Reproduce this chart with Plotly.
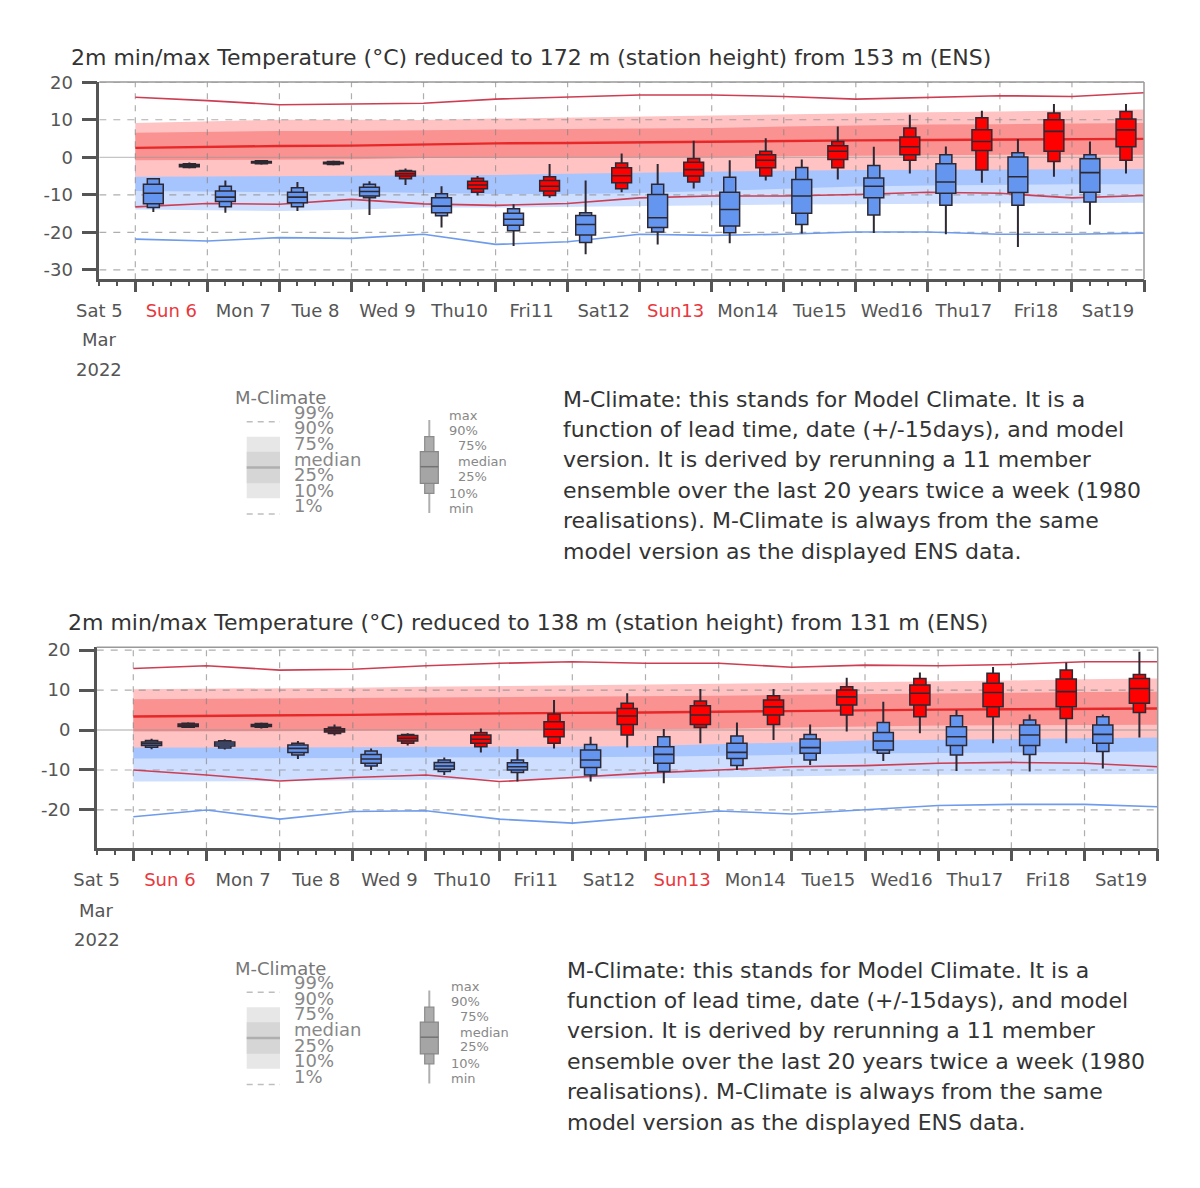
import pandas as pd
import plotly.graph_objects as go

W, H = 1200, 1188
FONT = "DejaVu Sans"

# ---------------- data ----------------
clim_dates = pd.date_range("2022-03-06", "2022-03-20", freq="D")
box_days = pd.date_range("2022-03-06", "2022-03-19", freq="D")
tmin_times = box_days + pd.Timedelta(hours=6)
tmax_times = box_days + pd.Timedelta(hours=18)
label_dates = pd.date_range("2022-03-05 12:00", periods=15, freq="D")
day_labels = ["Sat 5", "Sun 6", "Mon 7", "Tue 8", "Wed 9", "Thu10", "Fri11", "Sat12",
              "Sun13", "Mon14", "Tue15", "Wed16", "Thu17", "Fri18", "Sat19"]
sunday_labels = ["Sun 6", "Sun13"]
month_label = "Mar"
year_label = "2022"
x_start = "2022-03-05 12:00"
x_end = "2022-03-20 00:00"

titles = [
    "2m min/max Temperature (°C) reduced to 172 m (station height) from 153 m (ENS)",
    "2m min/max Temperature (°C) reduced to 138 m (station height) from 131 m (ENS)",
]
yticks_top = [20, 10, 0, -10, -20, -30]
yticks_bot = [20, 10, 0, -10, -20]
yrange_top = [-32.5, 20.05]
yrange_bot = [-29.6, 20.7]

# ---- top chart: M-Climate of max temperature (red) ----
t_cmax_p99 = [16.0, 15.1, 14.0, 14.2, 14.4, 15.5, 16.0, 16.6, 16.6, 16.2, 15.5, 15.9, 16.4, 16.2, 17.2]
t_cmax_p90 = [9.1, 9.6, 10.0, 10.0, 9.9, 10.3, 10.6, 10.9, 11.2, 11.5, 11.8, 12.0, 12.2, 12.4, 12.7]
t_cmax_p75 = [6.5, 6.8, 7.0, 7.0, 7.3, 7.4, 7.5, 7.6, 7.8, 8.2, 8.5, 8.7, 8.8, 9.0, 9.1]
t_cmax_p50 = [2.5, 2.8, 3.0, 3.1, 3.4, 3.7, 3.8, 4.0, 4.2, 4.5, 4.5, 4.6, 4.7, 4.8, 4.9]
t_cmax_p25 = [-0.8, -0.7, -0.6, -0.5, -0.2, -0.2, -0.2, -0.2, 0.0, 0.3, 0.5, 0.6, 0.7, 0.7, 0.7]
t_cmax_p10 = [-5.2, -5.1, -5.0, -5.0, -4.9, -4.7, -4.4, -4.1, -3.9, -3.6, -3.4, -3.3, -3.2, -3.1, -3.1]
t_cmax_p1 = [-13.2, -12.3, -12.5, -11.2, -12.4, -12.8, -12.3, -10.8, -10.3, -10.3, -9.9, -9.3, -9.6, -10.8, -10.2]
# ---- top chart: M-Climate of min temperature (blue); upper part hidden under the red climate ----
t_cmin_p99 = [5.5, 5.5, 5.6, 5.6, 5.7, 5.8, 5.9, 6.0, 6.2, 6.4, 6.6, 6.7, 6.8, 6.9, 7.0]
t_cmin_p90 = [1.5, 1.5, 1.6, 1.6, 1.7, 1.8, 1.9, 2.0, 2.2, 2.4, 2.6, 2.7, 2.8, 2.9, 3.0]
t_cmin_p75 = [-1.5, -1.5, -1.4, -1.4, -1.3, -1.2, -1.1, -1.0, -0.8, -0.6, -0.4, -0.3, -0.2, -0.1, 0.0]
t_cmin_p50 = [-4.0, -4.0, -3.9, -3.9, -3.8, -3.6, -3.3, -3.0, -2.8, -2.5, -2.3, -2.2, -2.1, -2.0, -2.0]
t_cmin_p25 = [-9.0, -9.2, -9.3, -9.2, -9.5, -9.8, -9.8, -9.5, -9.0, -8.3, -7.8, -7.5, -7.3, -7.2, -7.2]
t_cmin_p10 = [-13.9, -14.1, -14.3, -14.0, -13.4, -13.4, -13.2, -12.9, -12.8, -12.6, -12.5, -12.4, -12.3, -12.2, -12.1]
t_cmin_p1 = [-21.8, -22.3, -21.4, -21.6, -20.5, -23.2, -22.5, -20.5, -20.8, -20.5, -19.9, -19.9, -20.5, -20.5, -20.2]

# ---- top chart: ENS min temperature boxes (06 UTC) ----
t_min_min = [-14.6, -14.8, -14.3, -15.4, -18.7, -23.6, -25.8, -23.2, -22.9, -20.3, -20.2, -20.5, -23.9, -18.0]
t_min_p10 = [-13.4, -13.2, -13.2, -10.8, -15.6, -19.6, -22.7, -19.9, -20.1, -17.9, -15.4, -12.8, -12.8, -11.9]
t_min_p25 = [-12.4, -11.8, -12.1, -10.3, -14.8, -18.1, -20.7, -18.7, -18.3, -14.9, -10.8, -9.6, -9.4, -9.3]
t_min_med = [-9.6, -10.6, -10.6, -9.1, -13.0, -16.5, -17.9, -16.1, -13.9, -10.3, -7.7, -6.6, -5.2, -4.1]
t_min_p75 = [-7.2, -9.0, -9.3, -8.0, -10.8, -14.9, -15.5, -9.9, -9.3, -5.9, -5.5, -1.7, 0.1, -0.4]
t_min_p90 = [-5.7, -7.7, -8.1, -7.2, -9.7, -13.7, -14.8, -7.2, -5.3, -2.7, -2.2, 0.7, 1.2, 0.7]
t_min_max = [-5.5, -6.2, -6.6, -6.4, -7.7, -12.5, -6.2, -1.8, -0.8, -0.6, 2.8, 2.9, 4.9, 4.2]
# ---- top chart: ENS max temperature boxes (18 UTC) ----
t_max_min = [-2.9, -1.9, -2.1, -7.4, -10.2, -10.8, -9.3, -8.3, -6.2, -5.9, -4.3, -6.8, -5.2, -4.3]
t_max_p10 = [-2.7, -1.7, -1.9, -5.7, -9.3, -10.2, -8.4, -6.6, -5.0, -2.8, -0.8, -3.4, -1.1, -0.8]
t_max_p25 = [-2.5, -1.5, -1.7, -5.0, -8.4, -9.0, -6.8, -5.0, -2.8, -0.6, 0.7, 1.8, 1.6, 2.8]
t_max_med = [-2.2, -1.3, -1.5, -4.4, -7.4, -7.7, -4.9, -3.3, -0.8, 1.6, 2.8, 4.2, 6.9, 7.3]
t_max_p75 = [-1.9, -1.1, -1.3, -3.7, -6.4, -6.2, -2.8, -1.3, 0.7, 3.1, 5.4, 7.3, 10.0, 10.2]
t_max_p90 = [-1.7, -0.9, -1.1, -3.5, -5.6, -5.2, -1.5, -0.3, 1.6, 4.2, 7.8, 10.5, 11.8, 12.2]
t_max_max = [-1.4, -0.7, -0.9, -3.0, -5.0, -1.8, 1.0, 4.4, 5.1, 8.2, 11.3, 12.4, 14.2, 14.2]

# ---- bottom chart: M-Climate of max temperature (red) ----
b_cmax_p99 = [15.4, 16.1, 15.0, 15.2, 16.1, 16.7, 17.1, 16.7, 16.7, 15.7, 16.25, 16.1, 16.4, 17.1, 17.1]
b_cmax_p90 = [10.2, 10.3, 10.4, 10.6, 10.8, 11.0, 11.2, 11.3, 11.5, 11.7, 12.0, 12.2, 12.4, 12.7, 12.9]
b_cmax_p75 = [7.7, 7.8, 7.9, 8.0, 8.1, 8.2, 8.3, 8.4, 8.6, 8.8, 9.0, 9.2, 9.3, 9.5, 9.6]
b_cmax_p50 = [3.4, 3.5, 3.6, 3.8, 4.0, 4.2, 4.3, 4.4, 4.6, 4.8, 5.0, 5.1, 5.2, 5.3, 5.4]
b_cmax_p25 = [-0.4, -0.4, -0.3, -0.2, -0.1, 0.0, 0.0, 0.1, 0.3, 0.6, 0.9, 1.1, 1.2, 1.3, 1.3]
b_cmax_p10 = [-4.4, -4.4, -4.3, -4.3, -4.2, -4.2, -4.2, -4.0, -3.6, -3.1, -2.6, -2.4, -2.2, -2.0, -1.9]
b_cmax_p1 = [-10.0, -11.25, -12.75, -11.9, -11.25, -12.9, -11.9, -10.8, -10.0, -9.2, -8.9, -8.3, -8.1, -8.3, -9.2]
# ---- bottom chart: M-Climate of min temperature (blue); upper part hidden ----
b_cmin_p99 = [6.5, 6.5, 6.6, 6.7, 6.8, 6.9, 7.0, 7.1, 7.2, 7.4, 7.6, 7.7, 7.8, 7.9, 8.0]
b_cmin_p90 = [2.6, 2.6, 2.7, 2.8, 2.9, 3.0, 3.1, 3.2, 3.3, 3.5, 3.7, 3.8, 3.9, 4.0, 4.1]
b_cmin_p75 = [-0.5, -0.5, -0.4, -0.3, -0.2, -0.1, 0.0, 0.1, 0.3, 0.6, 0.9, 1.0, 1.1, 1.2, 1.3]
b_cmin_p50 = [-3.3, -3.3, -3.2, -3.2, -3.1, -3.1, -3.0, -2.8, -2.5, -2.0, -1.5, -1.3, -1.1, -0.9, -0.8]
b_cmin_p25 = [-7.1, -7.1, -7.0, -7.0, -6.9, -6.9, -6.8, -6.7, -6.5, -6.2, -5.9, -5.8, -5.6, -5.5, -5.4]
b_cmin_p10 = [-12.9, -12.9, -12.8, -12.6, -12.5, -12.4, -12.3, -12.1, -11.9, -11.6, -11.3, -11.2, -11.1, -11.0, -11.0]
b_cmin_p1 = [-21.7, -20.0, -22.3, -20.4, -20.2, -22.3, -23.3, -21.7, -20.25, -21.0, -20.0, -18.9, -18.6, -18.6, -19.2]

# ---- bottom chart: ENS min temperature boxes (06 UTC) ----
b_min_min = [-4.8, -4.9, -7.25, -10.0, -11.25, -12.9, -12.9, -13.3, -10.0, -8.75, -7.75, -10.25, -10.4, -9.6]
b_min_p10 = [-4.3, -4.5, -6.25, -9.0, -10.4, -10.6, -11.25, -10.4, -8.9, -7.5, -5.8, -6.25, -6.1, -5.4]
b_min_p25 = [-3.9, -4.0, -5.6, -8.3, -9.8, -10.0, -9.4, -8.3, -7.1, -5.8, -5.0, -3.9, -3.9, -3.3]
b_min_med = [-3.4, -3.5, -4.6, -7.25, -9.0, -9.2, -7.5, -6.1, -5.6, -4.4, -2.75, -1.7, -1.25, -1.1]
b_min_p75 = [-3.0, -3.0, -3.75, -6.1, -8.1, -8.2, -5.0, -4.2, -3.3, -2.25, -0.6, 0.8, 1.25, 1.25]
b_min_p90 = [-2.6, -2.7, -3.3, -5.25, -7.5, -7.5, -3.6, -1.7, -1.5, -1.1, 1.9, 3.6, 2.5, 3.3]
b_min_max = [-2.2, -2.3, -2.75, -4.6, -6.9, -4.75, -1.7, 0.25, 1.9, 1.4, 7.1, 5.0, 3.9, 3.9]
# ---- bottom chart: ENS max temperature boxes (18 UTC) ----
b_max_min = [0.5, 0.4, -1.4, -3.9, -5.6, -4.6, -4.4, -3.3, -2.5, -0.4, -0.8, -3.3, -3.3, -1.9]
b_max_p10 = [0.7, 0.7, -0.9, -3.3, -4.2, -3.3, -1.25, 0.6, 1.4, 3.75, 3.3, 3.3, 2.9, 4.4]
b_max_p25 = [0.9, 0.9, -0.5, -2.75, -3.3, -1.7, 1.4, 1.4, 3.75, 6.25, 6.25, 5.8, 5.8, 6.7]
b_max_med = [1.2, 1.1, -0.1, -2.1, -2.3, 0.2, 3.5, 3.75, 5.8, 8.3, 9.2, 9.4, 9.6, 10.4]
b_max_p75 = [1.5, 1.4, 0.3, -1.4, -1.25, 2.1, 5.4, 6.1, 7.5, 10.0, 11.25, 11.7, 12.75, 12.9]
b_max_p90 = [1.7, 1.6, 0.7, -1.1, -0.6, 4.0, 6.7, 7.25, 8.6, 10.8, 12.9, 14.2, 15.0, 13.9]
b_max_max = [1.9, 1.8, 1.4, -0.8, 0.4, 7.5, 9.2, 10.25, 10.25, 13.1, 14.4, 15.8, 16.9, 19.6]

legend_clim_labels = ["99%", "90%", "75%", "median", "25%", "10%", "1%"]
legend_box_labels = ["max", "90%", "75%", "median", "25%", "10%", "min"]
info_lines = [
    "M-Climate: this stands for Model Climate. It is a",
    "function of lead time, date (+/-15days), and model",
    "version. It is derived by rerunning a 11 member",
    "ensemble over the last 20 years twice a week (1980",
    "realisations). M-Climate is always from the same",
    "model version as the displayed ENS data.",
]

# ---------------- styles ----------------
RED_LIGHT = "rgb(255,195,195)"
RED_DARK = "rgb(250,146,146)"
RED_MED = "rgb(232,40,40)"
RED_EXT = "rgb(205,62,82)"
BLUE_LIGHT = "rgb(206,222,255)"
BLUE_DARK = "rgb(166,197,255)"
BLUE_EXT = "rgb(110,155,235)"
BOX_RED = "rgb(255,0,0)"
BOX_BLUE = "rgb(100,150,240)"
BOX_EDGE = "rgb(45,40,50)"
AXIS_COL = "#555555"
TEXT_COL = "#333333"
WIDE_MS = 6.6 * 3600 * 1000
NARROW_MS = 4.0 * 3600 * 1000
TITLE_SIZE = 22
INFO_SIZE = 22
TICK_SIZE = 18
LEG_SIZE = 18
BOXLEG_SIZE = 13


def px(x):
    return x / W


def py(y):
    return 1 - y / H


fig = go.Figure()


def add_line(x, y, xa, ya, color, width, dash=None, fill=None, fillcolor=None):
    fig.add_trace(go.Scatter(
        x=x, y=y, mode="lines", xaxis=xa, yaxis=ya, showlegend=False, hoverinfo="skip",
        line=dict(color=color, width=width, dash=dash), fill=fill, fillcolor=fillcolor))


def add_band(x, lo, hi, color, xa, ya):
    add_line(x, lo, xa, ya, "rgba(0,0,0,0)", 0)
    add_line(x, hi, xa, ya, "rgba(0,0,0,0)", 0, fill="tonexty", fillcolor=color)


def add_boxes(times, mn, p10, p25, med, p75, p90, mx, fill, xa, ya):
    fig.add_trace(go.Bar(
        x=times, base=p10, y=[b - a for a, b in zip(p10, p90)], width=NARROW_MS,
        marker=dict(color=fill, line=dict(color=BOX_EDGE, width=1.5)),
        xaxis=xa, yaxis=ya, showlegend=False, hoverinfo="skip"))
    fig.add_trace(go.Bar(
        x=times, base=p25, y=[b - a for a, b in zip(p25, p75)], width=WIDE_MS,
        marker=dict(color=fill, line=dict(color=BOX_EDGE, width=1.5)),
        xaxis=xa, yaxis=ya, showlegend=False, hoverinfo="skip"))
    wx, wy, mxs, mys = [], [], [], []
    half = pd.Timedelta(milliseconds=WIDE_MS / 2)
    for t, a, b, c, d, m in zip(times, mn, p10, p90, mx, med):
        wx += [t, t, None, t, t, None]
        wy += [a, b, None, c, d, None]
        mxs += [t - half, t + half, None]
        mys += [m, m, None]
    add_line(wx, wy, xa, ya, BOX_EDGE, 2)
    add_line(mxs, mys, xa, ya, BOX_EDGE, 1.6)


def draw_chart(k, cmax, cmin, bmin, bmax, yrange, yticks):
    xb, yb = ("x", "y") if k == 0 else ("x3", "y3")
    xo, yo = ("x2", "y2") if k == 0 else ("x4", "y4")
    # min-temperature climate (blue), partly covered by the max climate
    add_band(clim_dates, cmin[5], cmin[1], BLUE_LIGHT, xb, yb)
    add_band(clim_dates, cmin[4], cmin[2], BLUE_DARK, xb, yb)
    add_line(clim_dates, cmin[3], xb, yb, "rgb(90,130,220)", 2)
    add_line(clim_dates, cmin[0], xb, yb, BLUE_EXT, 1.6)
    # max-temperature climate (red)
    add_band(clim_dates, cmax[5], cmax[1], RED_LIGHT, xb, yb)
    add_band(clim_dates, cmax[4], cmax[2], RED_DARK, xb, yb)
    # grid lines above the climate bands
    vx, vy = [], []
    for d in box_days:
        vx += [d, d, None]
        vy += [yrange[0], yrange[1], None]
    add_line(vx, vy, xb, yb, "rgba(130,130,130,0.65)", 1.2, dash="6px,6px")
    hx, hy = [], []
    for v in yticks:
        if v != 0:
            hx += [x_start, x_end, None]
            hy += [v, v, None]
    add_line(hx, hy, xb, yb, "rgba(130,130,130,0.65)", 1.2, dash="7px,7px")
    add_line([x_start, x_end], [0, 0], xb, yb, "rgba(150,150,150,0.55)", 1.3)
    add_line(clim_dates, cmax[3], xb, yb, RED_MED, 2.4)
    add_line(clim_dates, cmax[0], xb, yb, RED_EXT, 1.6)
    add_line(clim_dates, cmax[6], xb, yb, RED_EXT, 1.6)
    add_line(clim_dates, cmin[6], xb, yb, BLUE_EXT, 1.6)
    # ENS boxes on the overlay axes
    add_boxes(tmin_times, *bmin, BOX_BLUE, xo, yo)
    add_boxes(tmax_times, *bmax, BOX_RED, xo, yo)


draw_chart(0,
           [t_cmax_p99, t_cmax_p90, t_cmax_p75, t_cmax_p50, t_cmax_p25, t_cmax_p10, t_cmax_p1],
           [t_cmin_p99, t_cmin_p90, t_cmin_p75, t_cmin_p50, t_cmin_p25, t_cmin_p10, t_cmin_p1],
           [t_min_min, t_min_p10, t_min_p25, t_min_med, t_min_p75, t_min_p90, t_min_max],
           [t_max_min, t_max_p10, t_max_p25, t_max_med, t_max_p75, t_max_p90, t_max_max],
           yrange_top, yticks_top)
draw_chart(1,
           [b_cmax_p99, b_cmax_p90, b_cmax_p75, b_cmax_p50, b_cmax_p25, b_cmax_p10, b_cmax_p1],
           [b_cmin_p99, b_cmin_p90, b_cmin_p75, b_cmin_p50, b_cmin_p25, b_cmin_p10, b_cmin_p1],
           [b_min_min, b_min_p10, b_min_p25, b_min_med, b_min_p75, b_min_p90, b_min_max],
           [b_max_min, b_max_p10, b_max_p25, b_max_med, b_max_p75, b_max_p90, b_max_max],
           yrange_bot, yticks_bot)

ticktext = [("<span style='color:#e8383d'>%s</span>" % s) if s in sunday_labels else s
            for s in day_labels]

# chart geometry (pixels)
charts = [
    dict(l=99.3, r=1144, t=82, b=279.3, yrange=yrange_top, yticks=yticks_top,
         title_x=69, title_y=57, label_y=310, legend_dy=0, info_x=561, info_y=399, standoff=13),
    dict(l=96.7, r=1157.7, t=647.3, b=848.3, yrange=yrange_bot, yticks=yticks_bot,
         title_x=66, title_y=622, label_y=880, legend_dy=570.5, info_x=565, info_y=970, standoff=13),
]

layout = dict(
    width=W, height=H, autosize=False,
    margin=dict(l=0, r=0, t=0, b=0, pad=0, autoexpand=False),
    paper_bgcolor="white", plot_bgcolor="rgba(0,0,0,0)", barmode="overlay",
    showlegend=False, font=dict(family=FONT, color=TEXT_COL),
)
annotations = []
shapes = []

for k, c in enumerate(charts):
    xb = "xaxis" if k == 0 else "xaxis3"
    yb = "yaxis" if k == 0 else "yaxis3"
    xo = "xaxis2" if k == 0 else "xaxis4"
    yo = "yaxis2" if k == 0 else "yaxis4"
    xb_id, yb_id = ("x", "y") if k == 0 else ("x3", "y3")
    xo_id, yo_id = ("x2", "y2") if k == 0 else ("x4", "y4")
    layout[xb] = dict(
        domain=[px(c["l"]), px(c["r"])], anchor=yb_id, type="date", range=[x_start, x_end],
        tickmode="array", tickvals=list(label_dates), ticktext=ticktext, ticks="",
        ticklabelstandoff=c["standoff"], automargin=False,
        showgrid=False, zeroline=False, showline=True, linecolor=AXIS_COL, linewidth=2.5,
        tickfont=dict(family=FONT, size=TICK_SIZE, color=AXIS_COL), fixedrange=True)
    layout[yb] = dict(
        domain=[py(c["b"]), py(c["t"])], anchor=xb_id, range=c["yrange"],
        tickmode="array", tickvals=c["yticks"], ticktext=[str(v) for v in c["yticks"]],
        ticks="outside", ticklen=15, tickwidth=2.5, automargin=False,
        tickcolor=AXIS_COL, ticklabelstandoff=5, showgrid=False, zeroline=False, showline=True,
        linecolor=AXIS_COL, linewidth=2.5, tickfont=dict(family=FONT, size=TICK_SIZE, color=AXIS_COL),
        fixedrange=True)
    layout[xo] = dict(
        overlaying=xb_id, anchor=yo_id, type="date", range=[x_start, x_end], automargin=False,
        tickmode="linear", tick0="2022-03-06", dtick=86400000, ticks="outside", ticklen=12,
        tickwidth=2.5, tickcolor=AXIS_COL, showticklabels=False, showgrid=False,
        zeroline=False, showline=False, fixedrange=True,
        minor=dict(ticks="outside", tick0="2022-03-06", dtick=21600000, ticklen=6,
                   tickwidth=1.5, tickcolor=AXIS_COL, showgrid=False))
    layout[yo] = dict(
        overlaying=yb_id, anchor=xo_id, range=c["yrange"], showticklabels=False, ticks="",
        automargin=False, showgrid=False, zeroline=False, showline=False, fixedrange=True)
    # thin frame on top and right
    shapes.append(dict(type="line", xref=xb_id + " domain", yref=yb_id + " domain",
                       x0=0, x1=1, y0=1, y1=1, line=dict(color="#999999", width=1.5)))
    shapes.append(dict(type="line", xref=xb_id + " domain", yref=yb_id + " domain",
                       x0=1, x1=1, y0=0, y1=1, line=dict(color="#999999", width=1.5)))
    # title
    annotations.append(dict(text=titles[k], xref="paper", yref="paper", x=px(c["title_x"]),
                            y=py(c["title_y"]), xanchor="left", yanchor="middle", showarrow=False,
                            font=dict(family=FONT, size=TITLE_SIZE, color=TEXT_COL)))
    # month / year under first day label
    for i, s in enumerate([month_label, year_label]):
        annotations.append(dict(text=s, xref=xb_id, yref="paper", x=label_dates[0],
                                y=py(c["label_y"] + 30 * (i + 1)), xanchor="center",
                                yanchor="middle", showarrow=False,
                                font=dict(family=FONT, size=TICK_SIZE, color=AXIS_COL)))
    # explanation text
    for i, s in enumerate(info_lines):
        annotations.append(dict(text=s, xref="paper", yref="paper", x=px(c["info_x"]),
                                y=py(c["info_y"] + 30.4 * i), xanchor="left", yanchor="middle",
                                showarrow=False, font=dict(family=FONT, size=INFO_SIZE, color=TEXT_COL)))
    # ---- M-Climate legend ----
    dy = c["legend_dy"]
    annotations.append(dict(text="M-Climate", xref="paper", yref="paper", x=px(233), y=py(398 + dy),
                            xanchor="left", yanchor="middle", showarrow=False,
                            font=dict(family=FONT, size=LEG_SIZE, color="#777777")))
    for i, s in enumerate(legend_clim_labels):
        annotations.append(dict(text=s, xref="paper", yref="paper", x=px(292), y=py(412.3 + 15.6 * i + dy),
                                xanchor="left", yanchor="middle", showarrow=False,
                                font=dict(family=FONT, size=LEG_SIZE, color="#888888")))
    shapes.append(dict(type="rect", xref="paper", yref="paper", x0=px(246.7), x1=px(280),
                       y0=py(436.7 + dy), y1=py(498.3 + dy), fillcolor="rgb(231,231,231)",
                       line=dict(width=0), layer="below"))
    shapes.append(dict(type="rect", xref="paper", yref="paper", x0=px(246.7), x1=px(280),
                       y0=py(451.7 + dy), y1=py(483.3 + dy), fillcolor="rgb(214,214,214)",
                       line=dict(width=0), layer="below"))
    shapes.append(dict(type="line", xref="paper", yref="paper", x0=px(246.7), x1=px(280),
                       y0=py(467.5 + dy), y1=py(467.5 + dy), line=dict(color="rgb(175,175,175)", width=2.5)))
    for yy in (421.7, 514):
        shapes.append(dict(type="line", xref="paper", yref="paper", x0=px(246.7), x1=px(280),
                           y0=py(yy + dy), y1=py(yy + dy),
                           line=dict(color="rgb(190,190,190)", width=1.5, dash="6px,5px")))
    # ---- box legend ----
    bx = 429.3
    shapes.append(dict(type="line", xref="paper", yref="paper", x0=px(bx), x1=px(bx),
                       y0=py(420 + dy), y1=py(513 + dy), line=dict(color="rgb(175,175,175)", width=2)))
    shapes.append(dict(type="rect", xref="paper", yref="paper", x0=px(bx - 4.6), x1=px(bx + 4.6),
                       y0=py(436.7 + dy), y1=py(493.3 + dy), fillcolor="rgb(172,172,172)",
                       line=dict(color="rgb(140,140,140)", width=1.2)))
    shapes.append(dict(type="rect", xref="paper", yref="paper", x0=px(bx - 9), x1=px(bx + 9),
                       y0=py(451.7 + dy), y1=py(483.3 + dy), fillcolor="rgb(165,165,165)",
                       line=dict(color="rgb(135,135,135)", width=1.2)))
    shapes.append(dict(type="line", xref="paper", yref="paper", x0=px(bx - 9), x1=px(bx + 9),
                       y0=py(466.7 + dy), y1=py(466.7 + dy), line=dict(color="rgb(115,115,115)", width=1.5)))
    box_lab_x = [447, 447, 456, 456, 456, 447, 447]
    box_lab_y = [415.7, 430.7, 445.7, 461.7, 476.3, 493.3, 508.3]
    for s, xx, yy in zip(legend_box_labels, box_lab_x, box_lab_y):
        annotations.append(dict(text=s, xref="paper", yref="paper", x=px(xx + (2 if k else 0)),
                                y=py(yy + dy), xanchor="left", yanchor="middle", showarrow=False,
                                font=dict(family=FONT, size=BOXLEG_SIZE, color="#888888")))

layout["annotations"] = annotations
layout["shapes"] = shapes
fig.update_layout(**layout)

fig.write_html("out.html", config={"displayModeBar": False},
               post_script="document.body.style.margin='0px';")
